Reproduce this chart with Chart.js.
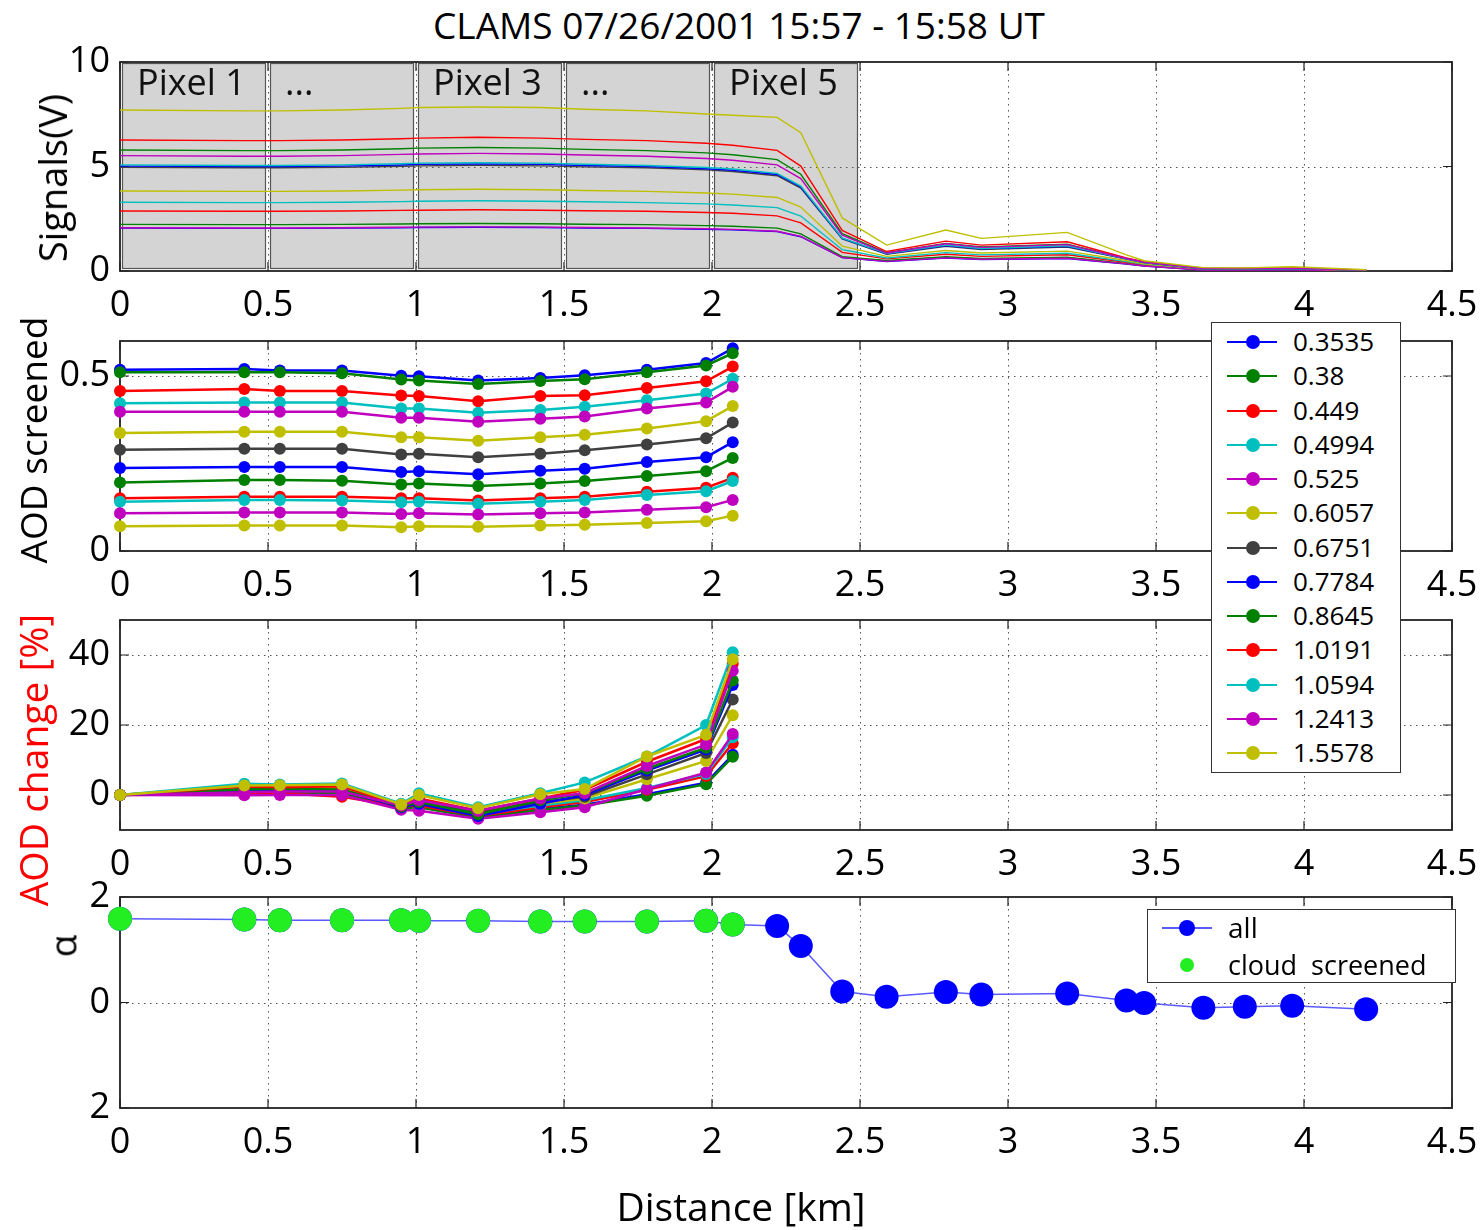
<!DOCTYPE html>
<html><head><meta charset="utf-8">
<script src="https://cdn.jsdelivr.net/npm/chart.js@4.4.1/dist/chart.umd.min.js"></script>
<style>
html,body{margin:0;padding:0;background:#fff;}
#wrap{position:relative;width:1480px;height:1230px;overflow:hidden;font-family:"Open Sans",sans-serif;color:#000;}
canvas{position:absolute;left:0;}
.t{position:absolute;white-space:pre;line-height:1;}
.rot{transform:translate(-50%,-50%) rotate(-90deg);}
.legend{position:absolute;background:#fff;border:1.5px solid #333;box-sizing:border-box;z-index:5;}
.ln{position:absolute;height:2px;}
.dot{position:absolute;border-radius:50%;}
.lab{position:absolute;white-space:pre;line-height:1;}
</style></head>
<body><div id="wrap">
<div class="t" style="left:0;width:1478px;text-align:center;top:6px;font-size:37px;">CLAMS 07/26/2001 15:57 - 15:58 UT</div>
<canvas id="c1" width="1480" height="309" style="top:32px"></canvas>
<canvas id="c2" width="1480" height="310" style="top:311px"></canvas>
<canvas id="c3" width="1480" height="310" style="top:590px"></canvas>
<canvas id="c4" width="1480" height="311" style="top:867px"></canvas>
<div class="t rot" style="left:52px;top:178px;font-size:38px;">Signals(V)</div>
<div class="t rot" style="left:32px;top:440px;font-size:37px;">AOD screened</div>
<div class="t rot" style="left:32px;top:760px;font-size:39px;color:#ff0000;">AOD change [%]</div>
<div class="t rot" style="left:62px;top:946px;font-size:37px;">α</div>
<div class="t" style="left:0;width:1482px;text-align:center;top:1186px;font-size:39px;">Distance [km]</div>
<div class="legend" id="leg1" style="left:1211px;top:322px;width:190px;height:451px;"></div>
<div class="legend" id="leg2" style="left:1147px;top:909px;width:309px;height:74px;"></div>
</div>
<script>
// ---------------- data ----------------
const distX = [0,0.42,0.54,0.75,0.95,1.01,1.21,1.42,1.57,1.78,1.98,2.07,2.22,2.30,2.44,2.59,2.79,2.91,3.20,3.40,3.46,3.66,3.80,3.96,4.21];
const screenedX = [0,0.42,0.54,0.75,0.95,1.01,1.21,1.42,1.57,1.78,1.98,2.07];
const xTicks = [0,0.5,1,1.5,2,2.5,3,3.5,4,4.5];
const signalTicks = [0,5,10];
const aodTicks = [0,0.5];
const changeTicks = [0,20,40];
const alphaTicks = [-2,0,2];
const wavelengths = ['0.3535','0.38','0.449','0.4994','0.525','0.6057','0.6751','0.7784','0.8645','1.0191','1.0594','1.2413','1.5578'];
const seriesColors = ['#0000ff','#008000','#ff0000','#00bfbf','#bf00bf','#bfbf00','#404040','#0000ff','#008000','#ff0000','#00bfbf','#bf00bf','#bfbf00'];
const pixelStarts = [0,0.5,1,1.5,2];
const pixelEnds = [0.5,1,1.5,2,2.5];
const pixelLabels = ['Pixel 1','...','Pixel 3','...','Pixel 5'];

// Signals (V)
const sig0353 = [2.05,2.04,2.04,2.05,2.07,2.08,2.09,2.08,2.06,2.04,2.00,1.97,1.89,1.64,0.64,0.45,0.62,0.55,0.60,0.33,0.24,0.05,0.05,0.05,0.02];
const sig0380 = [2.23,2.22,2.22,2.23,2.25,2.26,2.27,2.26,2.24,2.22,2.17,2.14,2.05,1.78,0.69,0.50,0.68,0.60,0.66,0.36,0.26,0.06,0.06,0.06,0.02];
const sig0449 = [2.87,2.86,2.86,2.87,2.90,2.91,2.93,2.91,2.88,2.86,2.80,2.76,2.64,2.30,0.89,0.58,0.80,0.70,0.78,0.42,0.30,0.07,0.07,0.08,0.03];
const sig0499 = [3.29,3.27,3.27,3.29,3.32,3.34,3.36,3.34,3.31,3.27,3.21,3.16,3.03,2.63,1.02,0.62,0.88,0.77,0.85,0.45,0.32,0.08,0.08,0.09,0.03];
const sig0525 = [2.07,2.06,2.06,2.07,2.09,2.10,2.11,2.10,2.08,2.06,2.02,1.99,1.90,1.66,0.64,0.46,0.63,0.56,0.61,0.34,0.24,0.05,0.05,0.05,0.02];
const sig0606 = [3.83,3.81,3.81,3.83,3.87,3.89,3.91,3.89,3.85,3.81,3.73,3.68,3.52,3.06,1.19,0.70,0.98,0.86,0.95,0.50,0.35,0.09,0.09,0.10,0.03];
const sig0675 = [4.96,4.94,4.94,4.96,5.01,5.03,5.06,5.03,4.98,4.94,4.84,4.76,4.56,3.97,1.54,0.80,1.18,1.03,1.15,0.57,0.40,0.10,0.10,0.12,0.04];
const sig0778 = [5.02,5.00,5.00,5.02,5.07,5.10,5.12,5.10,5.05,5.00,4.89,4.82,4.62,4.02,1.56,0.82,1.22,1.06,1.18,0.58,0.40,0.11,0.11,0.12,0.04];
const sig0865 = [5.79,5.76,5.76,5.79,5.85,5.88,5.91,5.88,5.82,5.76,5.65,5.56,5.33,4.63,1.79,0.88,1.32,1.15,1.28,0.60,0.42,0.12,0.12,0.13,0.04];
const sig1019 = [6.27,6.24,6.24,6.27,6.33,6.36,6.40,6.36,6.30,6.24,6.11,6.02,5.77,5.02,1.94,0.93,1.43,1.24,1.40,0.62,0.44,0.13,0.12,0.14,0.05];
const sig1059 = [5.08,5.05,5.05,5.08,5.13,5.16,5.18,5.16,5.11,5.05,4.95,4.88,4.67,4.06,1.57,0.83,1.24,1.08,1.20,0.58,0.40,0.11,0.11,0.12,0.04];
const sig1241 = [5.52,5.49,5.49,5.52,5.58,5.60,5.63,5.60,5.55,5.49,5.38,5.30,5.08,4.42,1.71,0.86,1.30,1.13,1.26,0.60,0.42,0.12,0.12,0.13,0.04];
const sig1558 = [7.70,7.66,7.66,7.70,7.78,7.82,7.85,7.82,7.74,7.66,7.51,7.45,7.35,6.62,2.54,1.24,1.96,1.56,1.85,0.77,0.49,0.16,0.15,0.20,0.06];

// AOD screened
const aod0353 = [0.518,0.520,0.516,0.516,0.501,0.499,0.487,0.494,0.502,0.518,0.537,0.579];
const aod0380 = [0.511,0.511,0.511,0.508,0.490,0.487,0.477,0.486,0.491,0.511,0.530,0.565];
const aod0449 = [0.457,0.463,0.457,0.457,0.444,0.443,0.428,0.443,0.445,0.466,0.485,0.527];
const aod0499 = [0.422,0.424,0.424,0.424,0.407,0.407,0.395,0.403,0.412,0.431,0.450,0.492];
const aod0525 = [0.398,0.398,0.398,0.398,0.381,0.381,0.369,0.378,0.384,0.407,0.424,0.469];
const aod0606 = [0.337,0.341,0.341,0.341,0.325,0.325,0.315,0.325,0.332,0.350,0.371,0.414];
const aod0675 = [0.289,0.292,0.292,0.292,0.276,0.278,0.268,0.278,0.288,0.304,0.322,0.367];
const aod0778 = [0.237,0.240,0.240,0.240,0.226,0.228,0.219,0.229,0.235,0.254,0.268,0.311];
const aod0865 = [0.196,0.203,0.203,0.201,0.190,0.193,0.186,0.193,0.200,0.214,0.228,0.266];
const aod1019 = [0.151,0.155,0.155,0.155,0.151,0.151,0.144,0.151,0.155,0.169,0.181,0.209];
const aod1059 = [0.141,0.146,0.146,0.144,0.139,0.141,0.135,0.141,0.146,0.160,0.171,0.200];
const aod1241 = [0.108,0.110,0.110,0.110,0.106,0.108,0.104,0.108,0.110,0.118,0.125,0.146];
const aod1558 = [0.071,0.073,0.073,0.073,0.068,0.071,0.069,0.073,0.075,0.080,0.085,0.101];

// AOD change [%]
const chg0353 = [0,1.3,1.5,1.0,-3.5,-3.0,-6.0,-4.0,-2.8,0.2,3.5,11.5];
const chg0380 = [0,0.6,0.8,0.5,-3.8,-3.5,-6.5,-4.3,-3.0,-0.2,3.1,10.9];
const chg0449 = [0,0.3,0.5,-0.5,-3.3,-3.0,-6.0,-3.5,-2.0,1.5,5.4,14.8];
const chg0499 = [0,1.8,1.5,1.5,-3.0,-2.0,-5.5,-3.0,-1.5,2.0,6.0,16.5];
const chg0525 = [0,-0.1,0,0,-4.2,-4.5,-6.8,-4.9,-3.5,1.7,6.4,17.4];
const chg0606 = [0,2.5,2.5,2.0,-3.0,-1.5,-5.0,-2.5,-1.0,4.5,9.7,22.8];
const chg0675 = [0,1.6,1.8,1.5,-3.2,-2.0,-5.0,-2.0,-0.5,5.9,12.0,27.3];
const chg0778 = [0,1.3,1.5,1.2,-3.5,-2.5,-6.0,-2.5,0,7.0,13.0,31.4];
const chg0865 = [0,1.6,1.8,1.5,-3.3,-2.0,-5.5,-1.5,0.5,7.5,13.5,32.7];
const chg1019 = [0,2.4,2.2,2.5,-3.0,-1.0,-4.5,-1.0,1.5,9.5,16.0,37.5];
const chg1059 = [0,3.2,3.0,3.3,-2.5,0.5,-3.5,0.5,3.6,11.0,20.0,40.8];
const chg1241 = [0,0.8,1.0,1.0,-3.0,-1.5,-4.5,-1.0,0.5,8.3,14.4,35.5];
const chg1558 = [0,2.7,2.8,3.0,-2.7,0,-3.8,0.2,1.7,11.0,17.2,38.8];

// Angstrom exponent
const alphaAll = [1.586,1.573,1.561,1.561,1.561,1.548,1.548,1.536,1.536,1.536,1.548,1.479,1.45,1.07,0.21,0.11,0.20,0.15,0.17,0.04,-0.01,-0.10,-0.08,-0.06,-0.13];
const alphaScreened = [1.586,1.573,1.561,1.561,1.561,1.548,1.548,1.536,1.536,1.536,1.548,1.479];

const signals = [sig0353,sig0380,sig0449,sig0499,sig0525,sig0606,sig0675,sig0778,sig0865,sig1019,sig1059,sig1241,sig1558];
const aods = [aod0353,aod0380,aod0449,aod0499,aod0525,aod0606,aod0675,aod0778,aod0865,aod1019,aod1059,aod1241,aod1558];
const changes = [chg0353,chg0380,chg0449,chg0499,chg0525,chg0606,chg0675,chg0778,chg0865,chg1019,chg1059,chg1241,chg1558];

// ---------------- drawing ----------------
const FONT = '"Open Sans", sans-serif';
function xy(xs, ys){ return xs.map((x,i)=>({x:x, y:ys[i]})); }

const framePlugin = {
  id:'frame',
  beforeDatasetsDraw(chart, args, o){
    const ctx = chart.ctx, a = chart.chartArea, xs = chart.scales.x, ys = chart.scales.y;
    ctx.save();
    if (o.boxes){
      pixelStarts.forEach((s,i)=>{
        const x0 = xs.getPixelForValue(s)+2, x1 = xs.getPixelForValue(pixelEnds[i])-2;
        ctx.fillStyle = '#d4d4d4';
        ctx.fillRect(x0, a.top+1, x1-x0, a.bottom-a.top-3);
        ctx.strokeStyle = '#555'; ctx.lineWidth = 1.2;
        ctx.strokeRect(x0+0.5, a.top+1.5, x1-x0-1, a.bottom-a.top-4);
        ctx.fillStyle = '#111'; ctx.font = '36px ' + FONT;
        ctx.textBaseline = 'alphabetic'; ctx.textAlign = 'left';
        ctx.fillText(pixelLabels[i], x0+15, a.top+33);
      });
    }
    // dotted grid
    ctx.strokeStyle = '#555'; ctx.lineWidth = 1; ctx.setLineDash([1.5,4.5]);
    ctx.beginPath();
    xTicks.forEach(v=>{ const p = Math.round(xs.getPixelForValue(v))+0.5; if (p < a.left+3 || p > a.right-3) return; ctx.moveTo(p,a.top); ctx.lineTo(p,a.bottom); });
    o.yTicks.forEach(v=>{ const p = Math.round(ys.getPixelForValue(v))+0.5; if (p < a.top+3 || p > a.bottom-3) return; ctx.moveTo(a.left,p); ctx.lineTo(a.right,p); });
    ctx.stroke();
    ctx.setLineDash([]);
    // frame and inward ticks
    ctx.strokeStyle = '#222'; ctx.lineWidth = 1.8;
    ctx.strokeRect(a.left, a.top, a.right-a.left, a.bottom-a.top);
    ctx.lineWidth = 1.2; ctx.beginPath();
    const tl = 9;
    xTicks.forEach(v=>{ const p = xs.getPixelForValue(v); ctx.moveTo(p,a.bottom); ctx.lineTo(p,a.bottom-tl); ctx.moveTo(p,a.top); ctx.lineTo(p,a.top+tl); });
    o.yTicks.forEach(v=>{ const p = ys.getPixelForValue(v); ctx.moveTo(a.left,p); ctx.lineTo(a.left+tl,p); ctx.moveTo(a.right,p); ctx.lineTo(a.right-tl,p); });
    ctx.stroke();
    ctx.restore();
  }
};

function makeChart(id, datasets, yMin, yMax, yTicks, yFmt, boxes){
  return new Chart(document.getElementById(id), {
    type:'line',
    data:{datasets:datasets},
    options:{
      responsive:false, animation:false, events:[],
      layout:{padding:{top:30,right:28,left:0,bottom:0}},
      plugins:{legend:{display:false}, tooltip:{enabled:false}, frame:{yTicks:yTicks, boxes:boxes}},
      scales:{
        x:{type:'linear', min:0, max:4.5,
           afterBuildTicks:s=>{ s.ticks = xTicks.map(v=>({value:v})); },
           afterFit:s=>{ s.height = 70; s.paddingLeft = 0; s.paddingRight = 0; },
           grid:{display:false, drawTicks:false}, border:{display:false},
           ticks:{color:'#000', font:{family:FONT, size:36}, padding:13, maxRotation:0, autoSkip:false, callback:v=>String(v)}},
        y:{type:'linear', min:yMin, max:yMax,
           afterBuildTicks:s=>{ s.ticks = yTicks.map(v=>({value:v})); },
           afterFit:s=>{ s.width = 120; s.paddingTop = 0; s.paddingBottom = 0; },
           grid:{display:false, drawTicks:false}, border:{display:false},
           ticks:{color:'#000', font:{family:FONT, size:36}, padding:10, autoSkip:false, callback:yFmt}}
      }
    },
    plugins:[framePlugin]
  });
}

const n = wavelengths.length;
makeChart('c1', signals.map((arr,i)=>({
  data:xy(distX,arr), borderColor:seriesColors[i], borderWidth:1.4, pointRadius:0, tension:0, order:n-i
})), 0, 10, signalTicks, v=>String(v), true);

function markerSets(xs, list){
  return list.map((arr,i)=>({
    data:xy(xs,arr), borderColor:seriesColors[i], backgroundColor:seriesColors[i],
    pointBackgroundColor:seriesColors[i], pointBorderColor:seriesColors[i], pointBorderWidth:0,
    pointRadius:6, borderWidth:2.5, tension:0, clip:false, order:n-i
  }));
}
makeChart('c2', markerSets(screenedX, aods), 0, 0.6, aodTicks, v=>String(v), false);
makeChart('c3', markerSets(screenedX, changes), -10, 50, changeTicks, v=>String(v), false);
makeChart('c4', [
  {data:xy(distX,alphaAll), borderColor:'#5a5aff', borderWidth:1.5, pointRadius:12,
   pointBackgroundColor:'#0000ff', pointBorderColor:'#0000ff', pointBorderWidth:0, tension:0, clip:false, order:1},
  {data:xy(screenedX,alphaScreened), showLine:false, pointRadius:12,
   pointBackgroundColor:'#22ee22', pointBorderColor:'#22ee22', pointBorderWidth:0, clip:false, order:0}
], -2, 2, alphaTicks, v=>String(Math.abs(v)), false);

// ---------------- legends ----------------
function addItem(box, cy, color, label, opts){
  if (opts.line){
    const l = document.createElement('div'); l.className='ln';
    l.style.cssText = `left:${opts.lx}px;width:${opts.lw}px;top:${cy-1}px;background:${opts.lineColor||color};`;
    box.appendChild(l);
  }
  const d = document.createElement('div'); d.className='dot';
  d.style.cssText = `left:${opts.dx-opts.r}px;top:${cy-opts.r}px;width:${2*opts.r}px;height:${2*opts.r}px;background:${color};`;
  box.appendChild(d);
  const t = document.createElement('div'); t.className='lab';
  t.style.cssText = `left:${opts.tx}px;top:${cy-opts.fs/2-1}px;font-size:${opts.fs}px;`;
  t.textContent = label;
  box.appendChild(t);
}
const leg1 = document.getElementById('leg1');
wavelengths.forEach((w,i)=>{
  addItem(leg1, 19 + i*34.25, seriesColors[i], w, {line:true, lx:15, lw:50, dx:41, r:7, tx:81, fs:26});
});
const leg2 = document.getElementById('leg2');
addItem(leg2, 18, '#0000ff', 'all', {line:true, lineColor:'#5a5aff', lx:14, lw:50, dx:39, r:8, tx:80, fs:28});
addItem(leg2, 55, '#22ee22', 'cloud  screened', {line:false, dx:39, r:7, tx:80, fs:27});
</script>
</body></html>
